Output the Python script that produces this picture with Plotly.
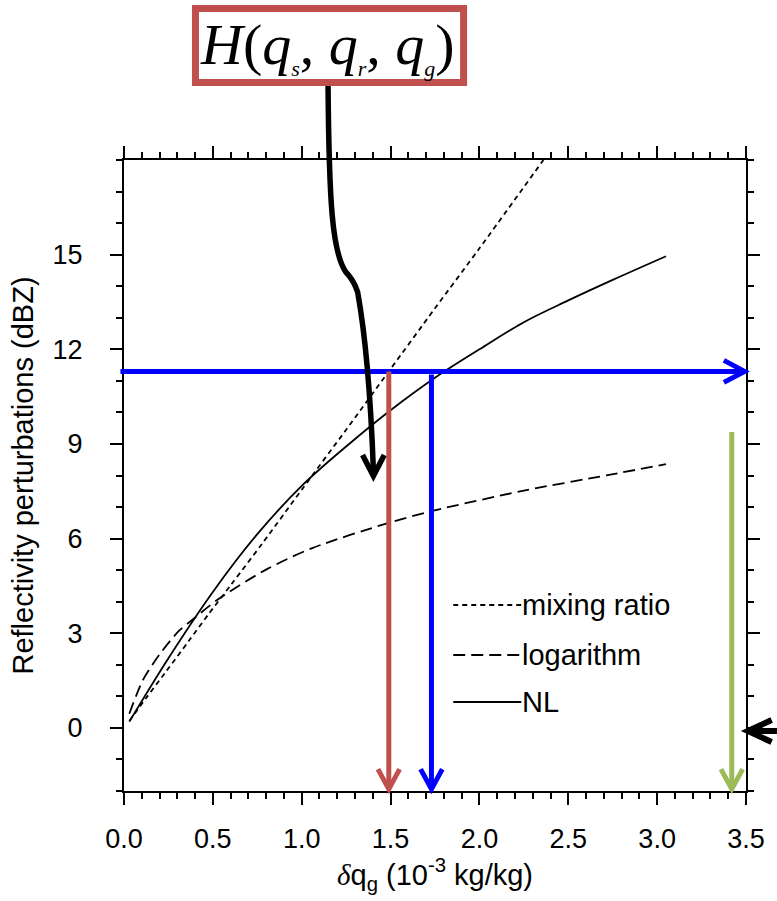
import plotly.graph_objects as go

# ---------------- data ----------------
x_mixing = [0.03, 0.125, 0.236, 0.365, 0.475, 0.604, 0.78, 1.0, 1.25, 1.49, 1.75, 2.0, 2.36]
y_mixing = [0.22, 0.95, 1.78, 2.76, 3.6, 4.55, 5.86, 7.55, 9.45, 11.3, 13.3, 15.2, 18.0]

x_log = [0.03, 0.107, 0.199, 0.31, 0.383, 0.53, 0.807, 1.06, 1.49, 1.73, 2.25, 2.73, 3.05]
y_log = [0.45, 1.52, 2.32, 3.08, 3.42, 4.08, 5.04, 5.7, 6.5, 6.87, 7.52, 8.02, 8.36]

x_nl = [0.03, 0.25, 0.5, 0.75, 1.0, 1.25, 1.5, 1.75, 2.0, 2.25, 2.5, 2.75, 3.05]
y_nl = [0.2, 2.21, 4.31, 6.14, 7.67, 8.92, 10.07, 11.1, 12.0, 12.86, 13.55, 14.2, 14.95]

legend_names = ["mixing ratio", "logarithm", "NL"]
x_ticks = [0.0, 0.5, 1.0, 1.5, 2.0, 2.5, 3.0, 3.5]
y_ticks = [0, 3, 6, 9, 12, 15]
y_minor = [-2, -1, 1, 2, 4, 5, 7, 8, 10, 11, 13, 14, 16, 17, 18]

# annotation arrows (data values)
threshold_y = 11.3
red_x = 1.49
blue_x = 1.73
green_x = 3.42
green_top = 9.38

X_RANGE = [0, 3.5]
Y_RANGE = [-2, 18]

# ---------------- layout geometry ----------------
W, H = 777, 901
ML, MR, MT, MB = 124, 22, 160, 110
PW, PH = W - ML - MR, H - MT - MB

RED = "#C0504D"
BLUE = "#0000FF"
GREEN = "#9BBB59"
SANS = "Liberation Sans, Arial, Helvetica"


def dx(v):
    return (v - X_RANGE[0]) / (X_RANGE[1] - X_RANGE[0])


def dy(v):
    return (v - Y_RANGE[0]) / (Y_RANGE[1] - Y_RANGE[0])


def pxx(p):
    return (p - ML) / PW


def pxy(p):
    return (H - MB - p) / PH


fig = go.Figure()

line_w = 1.8
fig.add_trace(go.Scatter(x=x_mixing, y=y_mixing, mode="lines", name=legend_names[0],
                         line=dict(color="black", width=line_w, dash="5px,4px", shape="spline", smoothing=0.8),
                         showlegend=False))
fig.add_trace(go.Scatter(x=x_log, y=y_log, mode="lines", name=legend_names[1],
                         line=dict(color="black", width=line_w, dash="12px,6px", shape="spline", smoothing=0.8),
                         showlegend=False))
fig.add_trace(go.Scatter(x=x_nl, y=y_nl, mode="lines", name=legend_names[2],
                         line=dict(color="black", width=line_w, shape="spline", smoothing=1.0),
                         showlegend=False))

shapes = []
annotations = []

# ---- manual legend ----
leg_y_px = [605, 655, 702]
leg_dash = ["5px,4px", "12px,6px", "solid"]
for name, ypix, dsh in zip(legend_names, leg_y_px, leg_dash):
    shapes.append(dict(type="line", xref="paper", yref="paper",
                       x0=pxx(458), x1=pxx(527), y0=pxy(ypix), y1=pxy(ypix),
                       line=dict(color="black", width=line_w, dash=dsh)))
    annotations.append(dict(xref="paper", yref="paper", x=pxx(526), y=pxy(ypix),
                            text=name, showarrow=False, xanchor="left", yanchor="middle",
                            font=dict(family=SANS, size=29, color="black")))


def arrow(x0, y0, x1, y1, color, width=5, head_len=20, head_half=11):
    """Arrow in paper coordinates; head size in pixels."""
    shapes.append(dict(type="line", xref="paper", yref="paper", x0=x0, y0=y0, x1=x1, y1=y1,
                       line=dict(color=color, width=width)))
    ax_ = (x1 - x0) * PW
    ay_ = (y1 - y0) * PH
    n = (ax_ ** 2 + ay_ ** 2) ** 0.5
    ux, uy = ax_ / n, ay_ / n
    bx, by = -ux * head_len, -uy * head_len
    qx, qy = -uy * head_half, ux * head_half
    p1 = (x1 + (bx + qx) / PW, y1 + (by + qy) / PH)
    p2 = (x1 + (bx - qx) / PW, y1 + (by - qy) / PH)
    path = f"M {p1[0]},{p1[1]} L {x1},{y1} L {p2[0]},{p2[1]}"
    shapes.append(dict(type="path", xref="paper", yref="paper", path=path,
                       line=dict(color=color, width=width)))


# blue horizontal arrow
arrow(dx(-0.02), dy(threshold_y), dx(3.492), dy(threshold_y), BLUE, width=5, head_len=21, head_half=11)
# red vertical arrow
arrow(dx(red_x), dy(threshold_y), dx(red_x), dy(Y_RANGE[0]) + 0.003, RED, width=5)
# blue vertical arrow
arrow(dx(blue_x), dy(threshold_y - 0.1), dx(blue_x), dy(Y_RANGE[0]) + 0.003, BLUE, width=5)
# green vertical arrow
arrow(dx(green_x), dy(green_top), dx(green_x), dy(Y_RANGE[0]) + 0.003, GREEN, width=5)
# black arrow from the right edge
arrow(pxx(800), dy(-0.1), pxx(757), dy(-0.1), "black", width=6, head_len=24, head_half=11)

# curved black arrow from the box to the curves
pts = [(331, 86), (332, 200), (335, 252), (349, 272), (357, 280), (361, 292),
       (368, 330), (374, 390), (377, 440), (377, 470)]
path = f"M {pxx(pts[0][0])},{pxy(pts[0][1])} " \
       f"C {pxx(pts[1][0])},{pxy(pts[1][1])} {pxx(pts[2][0])},{pxy(pts[2][1])} {pxx(pts[3][0])},{pxy(pts[3][1])} " \
       f"Q {pxx(pts[4][0])},{pxy(pts[4][1])} {pxx(pts[5][0])},{pxy(pts[5][1])} " \
       f"C {pxx(pts[6][0])},{pxy(pts[6][1])} {pxx(pts[7][0])},{pxy(pts[7][1])} {pxx(pts[9][0])},{pxy(pts[9][1])}"
shapes.append(dict(type="path", xref="paper", yref="paper", path=path,
                   line=dict(color="black", width=5.5)))
tip = (377, 476)
shapes.append(dict(type="path", xref="paper", yref="paper",
                   path=f"M {pxx(366)},{pxy(455)} L {pxx(tip[0])},{pxy(tip[1])} L {pxx(388)},{pxy(455)}",
                   line=dict(color="black", width=5.5)))

# red box with H(qs, qr, qg)
shapes.append(dict(type="rect", xref="paper", yref="paper",
                   x0=pxx(196.5), x1=pxx(468.5), y0=pxy(8.5), y1=pxy(82.5),
                   line=dict(color=RED, width=7), fillcolor="white"))
sub = '<span style="font-size:22px">{}</span>'
htext = ("<i>H</i>(<i>q</i><sub><i>" + sub.format("s") + "</i></sub>, "
         "<i>q</i><sub><i>" + sub.format("r") + "</i></sub>, "
         "<i>q</i><sub><i>" + sub.format("g") + "</i></sub>)")
annotations.append(dict(xref="paper", yref="paper", x=pxx(330), y=pxy(46), text=htext,
                        showarrow=False, xanchor="center", yanchor="middle",
                        font=dict(family="Liberation Serif, Times New Roman", size=58, color="black")))

axis_common = dict(
    showgrid=False, zeroline=False, showline=True, linecolor="black", linewidth=2,
    mirror="ticks", ticks="outside", ticklen=12, tickwidth=2, tickcolor="black",
    tickfont=dict(family=SANS, size=27, color="black"),
)

fig.update_layout(
    width=W, height=H,
    margin=dict(l=ML, r=MR, t=MT, b=MB, pad=0),
    paper_bgcolor="white", plot_bgcolor="white",
    showlegend=False,
    xaxis=dict(range=X_RANGE, tickmode="array", tickvals=x_ticks,
               ticktext=[f"{v:.1f}" for v in x_ticks], ticklabelstandoff=11,
               minor=dict(dtick=0.1, tick0=0, ticks="outside", ticklen=6, tickwidth=1.5,
                          tickcolor="black", showgrid=False),
               title=dict(text='<span style="font-family:Liberation Serif"><i>δ</i></span>q<sub>g</sub> (10<sup>-3</sup> kg/kg)',
                          font=dict(family=SANS, size=29, color="black"),
                          standoff=10),
               **axis_common),
    yaxis=dict(range=Y_RANGE, tickmode="array", tickvals=y_ticks, ticklabelstandoff=22,
               minor=dict(tickmode="array", tickvals=y_minor, ticks="outside", ticklen=6,
                          tickwidth=1.5, tickcolor="black", showgrid=False),
               title=dict(text="Reflectivity perturbations (dBZ)",
                          font=dict(family=SANS, size=29, color="black"),
                          standoff=10),
               **axis_common),
    shapes=shapes,
    annotations=annotations,
)

fig.write_html("out.html")
